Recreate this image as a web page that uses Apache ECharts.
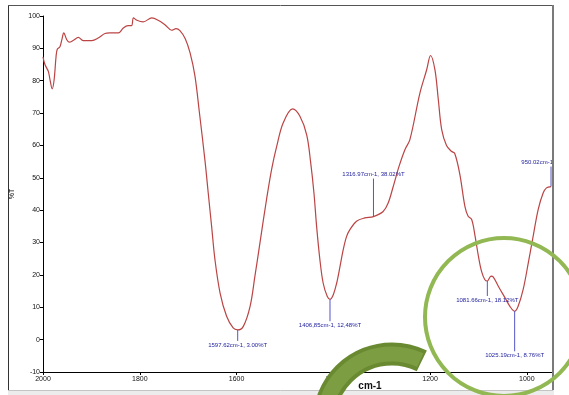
<!DOCTYPE html>
<html>
<head>
<meta charset="utf-8">
<script src="https://cdn.jsdelivr.net/npm/echarts@6/dist/echarts.min.js"></script>
<style>
  html, body { margin: 0; padding: 0; background: #ffffff; }
  #chart { width: 569px; height: 395px; }
</style>
</head>
<body>
<div id="chart"></div>
<script>
// IR spectrum: wavenumber (cm-1) vs transmittance (%T)
const wavenumbers = [
  2000, 1996, 1989, 1985.5, 1981, 1977, 1973, 1970.5, 1965, 1961, 1957, 1951, 1946,
  1937, 1927, 1917, 1899, 1886, 1872, 1862, 1844, 1834, 1824, 1817, 1813, 1806,
  1793, 1775, 1762, 1748, 1734, 1725, 1717, 1706, 1696, 1686, 1677, 1665, 1658.5,
  1651.5, 1644.6, 1634, 1620.5, 1607, 1597.62, 1586, 1572, 1562, 1551.6, 1538,
  1527, 1517, 1503.5, 1484, 1469, 1455, 1447, 1440, 1434.5, 1427.7, 1421, 1412.6,
  1406.85, 1400, 1393, 1386, 1379.5, 1372.5, 1365.7, 1352, 1335, 1316.97, 1297,
  1286.6, 1276, 1264, 1252, 1241.7, 1221, 1207, 1199, 1190, 1183, 1176, 1166,
  1156, 1149, 1138.4, 1128, 1121.3, 1114, 1107, 1100, 1093.6, 1087, 1081.66,
  1074, 1069.6, 1059, 1045, 1035, 1025.19, 1018, 1007.6, 997, 987, 976.6, 966.3,
  959.4, 950.02
];
const transmittance = [
  87.4, 85.0, 82.9, 80.3, 77.5, 80.3, 87.5, 89.7, 90.5, 92.7, 94.8, 92.7, 91.9,
  92.5, 93.4, 92.4, 92.4, 93.2, 94.6, 94.8, 94.8, 96.3, 97.0, 97.0, 99.4, 98.7,
  98.2, 99.4, 98.7, 97.3, 95.6, 96.1, 95.5, 93.0, 88.6, 81.5, 70.5, 55.0, 45.3,
  35.0, 24.7, 14.4, 7.2, 3.6, 3.00, 4.1, 10.3, 19.6, 29.9, 43.3,
  53.0, 59.7, 67.0, 71.3, 69.0, 63.3, 55.0, 45.3, 35.0, 24.7, 17.5, 13.4,
  12.48, 13.9, 17.5, 22.7, 27.8, 31.9, 34.0, 36.6, 37.6, 38.02, 39.6,
  42.2, 47.4, 53.6, 58.7, 61.8, 76.2, 83.4, 87.8, 83.4, 74.2, 64.9, 60.0,
  58.2, 57.5, 51.0, 41.2, 38.1, 37.1, 32.0, 25.7, 21.1, 18.6, 18.12,
  19.6, 19.4, 16.5, 12.9, 10.3, 8.76, 10.3, 15.5, 23.7, 31.9, 40.2, 45.3,
  46.9, 47.3
];

// Picked peaks
const peakWavenumbers = [1597.62, 1406.85, 1316.97, 1081.66, 1025.19, 950.02];
const peakTransmittance = [3.00, 12.48, 38.02, 18.12, 8.76, 47.3];
const peakLabels = [
  '1597.62cm-1, 3.00%T',
  '1406,85cm-1, 12,48%T',
  '1316.97cm-1, 38.02%T',
  '1081.66cm-1, 18.12%T',
  '1025.19cm-1, 8.76%T',
  '950.02cm-1'
];

const xTickValues = [2000, 1800, 1600, 1400, 1200, 1000];

// leader line length in px (negative = upwards), and label alignment
const leaderLength = [11, 22, -38, 15, 40, -20];
const labelAlign = ['center', 'center', 'center', 'center', 'center', 'right'];
const labelShift = [0, 0, 0, 0, 0, 2];

const spectrum = wavenumbers.map((w, i) => [w, transmittance[i]]);
const peaks = peakWavenumbers.map((w, i) => [w, peakTransmittance[i]]);

const chart = echarts.init(document.getElementById('chart'), null, { renderer: 'canvas' });

const axisFont = { fontFamily: 'Liberation Sans', fontSize: 7, color: '#111' };

chart.setOption({
  animation: false,
  backgroundColor: '#ffffff',
  grid: { left: 43, right: 17, top: 16, bottom: 23, containLabel: false, outerBoundsMode: 'none' },
  xAxis: {
    type: 'value',
    inverse: true,
    min: 948,
    max: 2000,
    splitLine: { show: false },
    axisLine: { show: true, onZero: false, lineStyle: { color: '#000', width: 1 } },
    axisTick: { show: true, length: 3, customValues: xTickValues, lineStyle: { color: '#000' } },
    axisLabel: Object.assign({
      margin: 4,
      customValues: xTickValues,
      showMinLabel: true,
      showMaxLabel: true,
      formatter: (v) => String(v)
    }, axisFont)
  },
  yAxis: {
    type: 'value',
    min: -10,
    max: 100,
    interval: 10,
    name: '%T',
    nameLocation: 'middle',
    nameGap: 27,
    nameRotate: 90,
    nameTextStyle: { fontFamily: 'Liberation Sans', fontSize: 7, color: '#111' },
    splitLine: { show: false },
    axisLine: { show: true, onZero: false, lineStyle: { color: '#000', width: 1 } },
    axisTick: { show: true, length: 3, lineStyle: { color: '#000' } },
    axisLabel: Object.assign({ margin: 3 }, axisFont)
  },
  series: [
    {
      type: 'line',
      data: spectrum,
      smooth: 0.35,
      symbol: 'none',
      lineStyle: { color: '#bb4444', width: 1.2 },
      z: 2
    },
    {
      type: 'custom',
      data: peaks,
      z: 3,
      renderItem: function (params, api) {
        const i = params.dataIndex;
        const p = api.coord([api.value(0), api.value(1)]);
        const d = leaderLength[i];
        const y2 = p[1] + d;
        const down = d > 0;
        return {
          type: 'group',
          children: [
            {
              type: 'line',
              shape: { x1: p[0], y1: p[1], x2: p[0], y2: y2 },
              style: { stroke: '#5555c8', lineWidth: 1 }
            },
            {
              type: 'text',
              x: p[0] + labelShift[i],
              y: y2 + (down ? 1 : -1),
              style: {
                text: peakLabels[i],
                fill: '#1c1c9c',
                font: '6px "Liberation Sans"',
                align: labelAlign[i],
                verticalAlign: down ? 'top' : 'bottom',
                textAlign: labelAlign[i],
                textVerticalAlign: down ? 'top' : 'bottom'
              }
            }
          ]
        };
      }
    }
  ],
  graphic: [
    // page frame
    { type: 'line', z: 50, shape: { x1: 8.5, y1: 5, x2: 8.5, y2: 392 }, style: { stroke: '#333', lineWidth: 1 } },
    { type: 'line', z: 50, shape: { x1: 8, y1: 5.5, x2: 553, y2: 5.5 }, style: { stroke: '#555', lineWidth: 1 } },
    { type: 'line', z: 50, shape: { x1: 553, y1: 5, x2: 553, y2: 392 }, style: { stroke: '#7a7a7a', lineWidth: 2 } },
    { type: 'rect', z: 50, shape: { x: 8, y: 390, width: 546, height: 5 }, style: { fill: '#ececec', stroke: null } },
    { type: 'line', z: 50, shape: { x1: 8, y1: 390.5, x2: 553, y2: 390.5 }, style: { stroke: '#c4c4c4', lineWidth: 1 } },
    // axis title
    {
      type: 'text', z: 60, x: 370, y: 386,
      style: { text: 'cm-1', font: 'bold 10px "Liberation Sans"', fill: '#111', align: 'center', verticalAlign: 'middle', textAlign: 'center', textVerticalAlign: 'middle' }
    },
    // highlight ring
    {
      type: 'circle', z: 70,
      shape: { cx: 504, cy: 317, r: 79 },
      style: { fill: null, stroke: '#92b853', lineWidth: 4 }
    },
    // curved arrow band
    {
      type: 'arc', z: 80,
      shape: { cx: 392, cy: 422, r: 68, startAngle: Math.PI, endAngle: Math.PI * 296 / 180, clockwise: true },
      style: { fill: null, stroke: '#6a8a32', lineWidth: 23, lineCap: 'butt' }
    },
    {
      type: 'arc', z: 81,
      shape: { cx: 392, cy: 422, r: 68, startAngle: Math.PI, endAngle: Math.PI * 294.5 / 180, clockwise: true },
      style: { fill: null, stroke: '#7d9d42', lineWidth: 15, lineCap: 'butt' }
    }
  ]
});
</script>
</body>
</html>
